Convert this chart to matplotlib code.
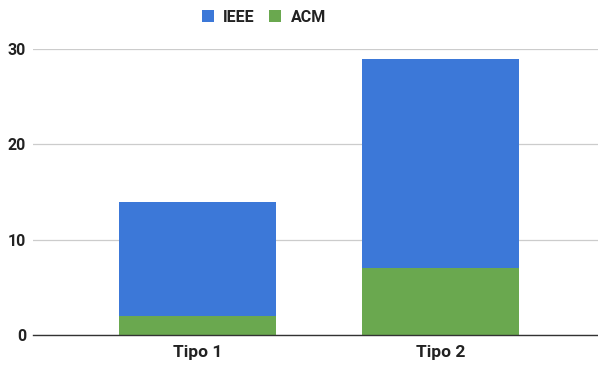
import matplotlib
matplotlib.use("Agg")
import matplotlib.pyplot as plt
import numpy as np

categories = ["Tipo 1", "Tipo 2"]
acm = [2, 7]
ieee = [12, 22]
yticks = [0, 10, 20, 30]

plt.rcParams['font.family'] = ['Roboto', 'DejaVu Sans']

W, H = 598, 368
fig = plt.figure(figsize=(W / 100, H / 100), dpi=100)
ax = fig.add_axes([33 / W, (H - 335) / H, (598 - 33) / W, (335 - 49) / H])

x = np.arange(len(categories))
bw = 0.646
ax.bar(x, acm, width=bw, color="#6AA84F", label="ACM", zorder=3)
ax.bar(x, ieee, width=bw, bottom=acm, color="#3C78D8", label="IEEE", zorder=3)

ax.set_xlim(-0.677, 1.648)
ax.set_ylim(0, 30)
ax.set_yticks(yticks)
ax.set_yticklabels([str(v) for v in yticks], fontsize=11.5, fontweight='bold', color='#222222')
ax.set_xticks(x)
ax.set_xticklabels(categories, fontsize=12.5, fontweight='bold', color='#222222')
ax.tick_params(axis='both', length=0)
ax.tick_params(axis='y', pad=5)
ax.tick_params(axis='x', pad=7)
ax.grid(axis='y', color='#cccccc', linewidth=0.9, zorder=0)
for s in ['top', 'right', 'left']:
    ax.spines[s].set_visible(False)
ax.spines['bottom'].set_color('#333333')
ax.spines['bottom'].set_linewidth(1.0)
ax.spines['bottom'].set_zorder(4)

handles, labels = ax.get_legend_handles_labels()
leg = fig.legend(handles[::-1], labels[::-1], loc='center', bbox_to_anchor=(264 / W, 1 - 17 / H),
                 ncol=2, frameon=False, fontsize=11.5, handlelength=0.75, handleheight=0.75,
                 handletextpad=0.6, columnspacing=0.9)
for t in leg.get_texts():
    t.set_fontweight('bold')
    t.set_color('#222222')

fig.savefig("out.png", dpi=100)
